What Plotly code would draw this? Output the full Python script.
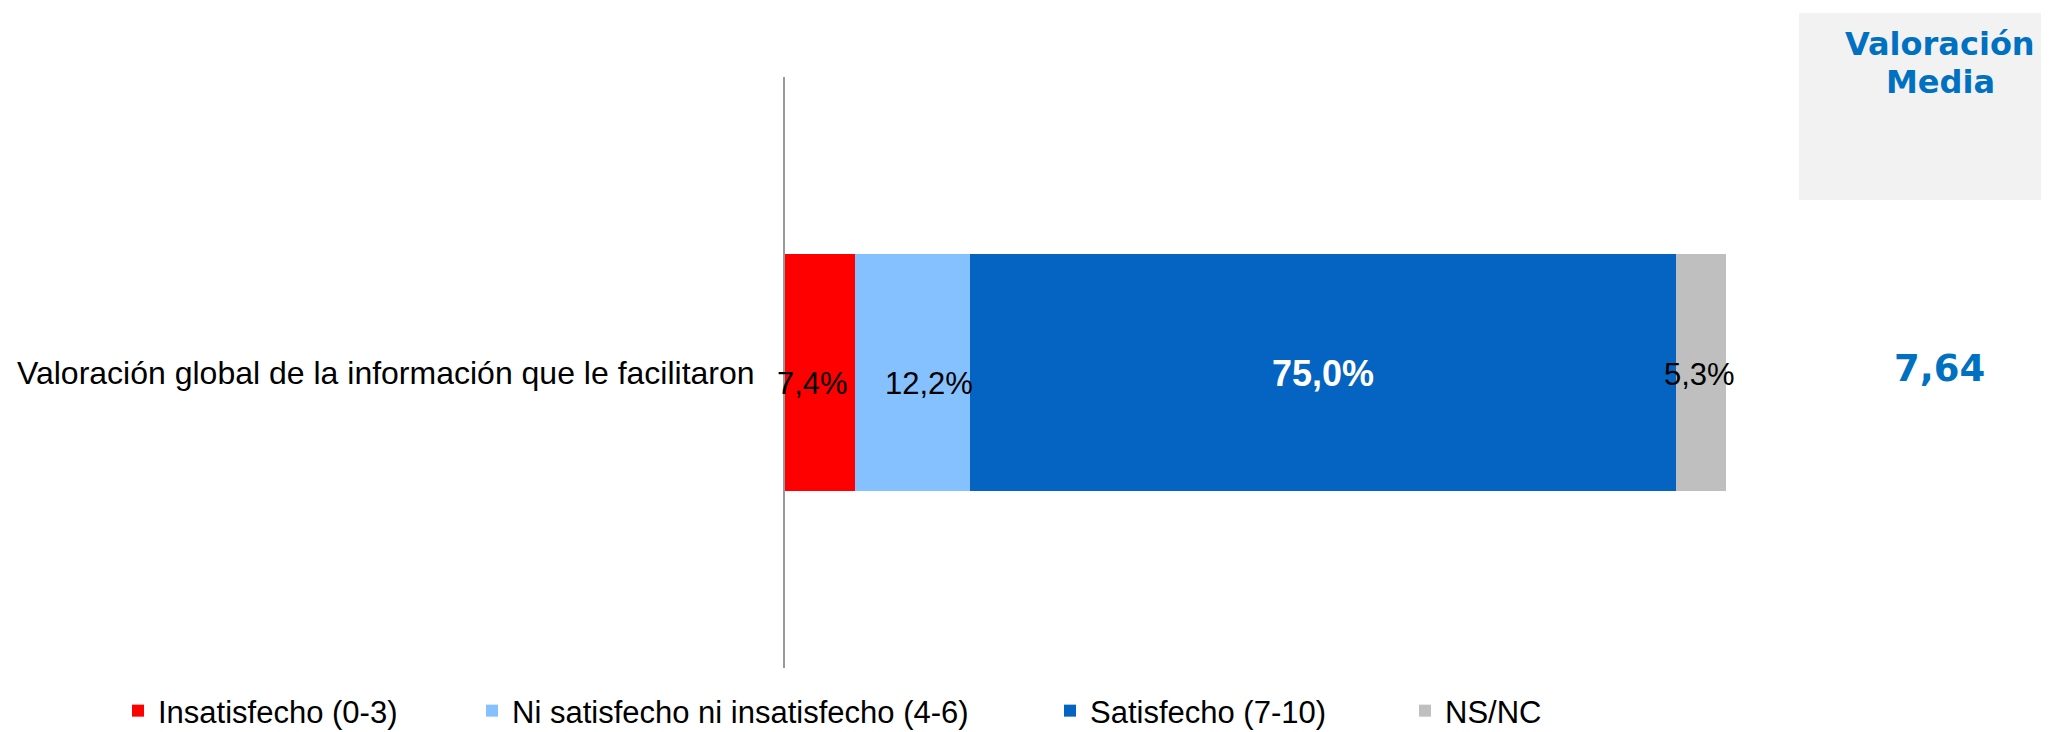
import plotly.graph_objects as go

# data
category = "Valoración global de la información que le facilitaron"
series = ["Insatisfecho (0-3)", "Ni satisfecho ni insatisfecho (4-6)",
          "Satisfecho (7-10)", "NS/NC"]
values = [7.4, 12.2, 75.0, 5.3]
mean_score = "7,64"
mean_title = ["Valoración", "Media"]

# style
COLORS = ["#FF0000", "#85C1FF", "#0563C1", "#BFBFBF"]
LABEL_COLORS = ["black", "black", "white", "black"]
LABEL_BOLD = [False, False, True, False]
LABEL_SIZE = [31, 31, 36, 31]
LABEL_XSHIFT = [-7, 17, 0, -2]
LABEL_YSHIFT = [-11, -11, -1, -2]
ACCENT = "#0070C0"
FONT = "Liberation Sans, Arial, sans-serif"

# the page body has an 8px margin, so the figure starts at (8, 8) in the window
OFF = 8
W, H = 2049 - OFF, 732 - OFF
L, T = 785 - OFF, 77 - OFF
R, B = W - (1727 - OFF), H - (668 - OFF)
PW, PH = W - L - R, H - T - B


def px_x(px):
    # window pixel -> paper x
    return (px - OFF - L) / PW


def px_y(py):
    # window pixel -> paper y
    return (H - B - (py - OFF)) / PH


fig = go.Figure()
legend_ids = ["legend", "legend2", "legend3", "legend4"]
for name, v, col, lg in zip(series, values, COLORS, legend_ids):
    fig.add_trace(go.Bar(
        y=[category], x=[v], name=name, orientation="h",
        marker=dict(color=col, line=dict(width=0)),
        legend=lg, hoverinfo="skip",
    ))

# value labels at the middle of each segment
annotations = []
start = 0
for i, v in enumerate(values):
    txt = f"{v:.1f}%".replace(".", ",")
    if LABEL_BOLD[i]:
        txt = f"<b>{txt}</b>"
    annotations.append(dict(
        x=start + v / 2, y=category, xref="x", yref="y", text=txt,
        showarrow=False, xshift=LABEL_XSHIFT[i], yshift=LABEL_YSHIFT[i],
        font=dict(family=FONT, size=LABEL_SIZE[i], color=LABEL_COLORS[i]),
    ))
    start += v

# mean score panel
for line, ypx in zip(mean_title, [44, 82]):
    annotations.append(dict(
        x=px_x(1940), y=px_y(ypx), xref="paper", yref="paper", text=f"<b>{line}</b>",
        showarrow=False, xanchor="center", yanchor="middle",
        font=dict(family="DejaVu Sans", size=32, color=ACCENT),
    ))
annotations.append(dict(
    x=px_x(1939), y=px_y(368), xref="paper", yref="paper", text=f"<b>{mean_score}</b>",
    showarrow=False, xanchor="center", yanchor="middle",
    font=dict(family="DejaVu Sans", size=37, color=ACCENT),
))

shapes = [dict(
    type="rect", xref="paper", yref="paper", layer="below",
    x0=px_x(1799), x1=px_x(2049), y0=px_y(200), y1=px_y(13),
    fillcolor="#F2F2F2", line=dict(width=0),
)]

legend_text_starts = [158, 512, 1090, 1445]
legend_layout = {}
for lg, xs in zip(legend_ids, legend_text_starts):
    legend_layout[lg] = dict(
        x=px_x(xs - 40), y=px_y(711), xanchor="left", yanchor="middle",
        orientation="h", bgcolor="rgba(0,0,0,0)",
        font=dict(family=FONT, size=31, color="black"),
    )

fig.update_layout(
    width=W, height=H,
    margin=dict(l=L, r=R, t=T, b=B, autoexpand=False),
    paper_bgcolor="white", plot_bgcolor="white",
    barmode="stack", bargap=0.6,
    showlegend=True,
    xaxis=dict(range=[0, 100], visible=False, fixedrange=True),
    yaxis=dict(
        showline=True, linecolor="#999999", linewidth=2,
        showgrid=False, zeroline=False, ticks="",
        ticklabelstandoff=22,
        tickfont=dict(family=FONT, size=32, color="black"),
    ),
    annotations=annotations,
    shapes=shapes,
    **legend_layout,
)

fig.write_html("out.html")
